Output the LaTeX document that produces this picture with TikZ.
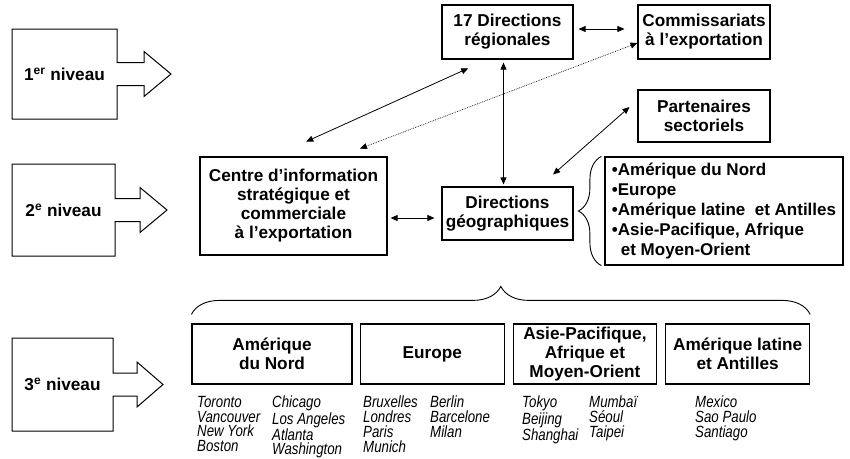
\documentclass[tikz,border=0pt]{standalone}
\usepackage{fontspec}
\setmainfont{Liberation Sans}
\newfontfamily\villefont[FakeStretch=0.82]{Liberation Sans}
\usetikzlibrary{positioning,calc,arrows.meta,decorations.pathreplacing}

\tikzset{
  boite/.style={draw,line width=1.2pt,align=center,inner sep=0pt,font=\bfseries\fontsize{17.2}{19}\selectfont},
  fleche/.style={>={Triangle[length=7pt,width=6pt]},<->,line width=0.8pt},
  ville/.style={anchor=north west,inner sep=0pt,align=left,font=\villefont\itshape\fontsize{16.2}{14.8}\selectfont},
  accolade/.style={decorate,decoration={brace,amplitude=#1},line width=0.9pt},
  niveau/.style={draw,line width=1pt}
}

\begin{document}
\begin{tikzpicture}[x=1pt,y=-1pt]
  \useasboundingbox (0,0) rectangle (850,458);

  % Niveaux
  \foreach \n/\lab/\yt/\yb/\xr/\xs/\xt in {1/1\textsuperscript{er} niveau/29/119/117/144/171,
      2/2\textsuperscript{e} niveau/164/256/115/140/167,
      3/3\textsuperscript{e} niveau/338/431/113/137/163}{
    \pgfmathsetmacro{\yc}{(\yt+\yb)/2}
    \draw[niveau] (12,\yt) -- (\xr,\yt) -- (\xr,\yc-11.5) -- (\xs,\yc-11.5) -- (\xs,\yc-22.5)
      -- (\xt,\yc) -- (\xs,\yc+22.5) -- (\xs,\yc+11.5) -- (\xr,\yc+11.5) -- (\xr,\yb) -- (12,\yb) -- cycle;
    \node[font=\bfseries\fontsize{17.2}{19}\selectfont] (niv\n) at ({(12+\xr)/2},\yc) {\lab};
  }

  % 1er et 2e niveau
  \node[boite,minimum width=131pt,minimum height=54pt] (dirreg) at (507.5,32) {17 Directions\\régionales};
  \node[boite,minimum width=132pt,minimum height=54pt] (commis) at (704,32) {Commissariats\\à l’exportation};
  \node[boite,minimum width=132pt,minimum height=52pt] (partenaires) at (704,116) {Partenaires\\sectoriels};
  \node[boite,minimum width=131pt,minimum height=53pt] (dirgeo) at (507.5,213.5) {Directions\\géographiques};
  \node[boite,minimum width=187pt,minimum height=98pt] (centre) at (293.5,206) {Centre d’information\\stratégique et\\commerciale\\à l’exportation};
  \node[boite,align=left,minimum width=238pt,minimum height=108pt,font=\bfseries\fontsize{17}{20}\selectfont] (zones) at (724,211)
    {•Amérique du Nord\\•Europe\\•Amérique latine\ \ et Antilles\\•Asie-Pacifique, Afrique\\\hspace*{9pt}et Moyen-Orient};

  % liaisons
  \draw[fleche,shorten <=5pt,shorten >=13pt] ([yshift=3pt]dirreg.east) -- ([yshift=3pt]commis.west);
  \draw[fleche,shorten <=3pt,shorten >=2pt] ([xshift=-4pt]dirreg.south) -- ([xshift=-4pt]dirgeo.north);
  \draw[fleche,shorten <=21pt,shorten >=36pt] ($(dirreg.south west)+(46,0)$) -- ($(centre.north west)+(74,0)$);
  \draw[fleche,densely dotted,line width=0.6pt,shorten >=22pt] ($(commis.west)+(0,11)$) -- ($(centre.north west)+(140,0)$);
  \draw[fleche,shorten <=10.6pt,shorten >=18pt] ($(partenaires.west)+(0,-16)$) -- ($(dirgeo.north east)+(-34,0)$);
  \draw[fleche,shorten <=3pt,shorten >=7pt] ($(centre.east)+(0,12)$) -- ($(dirgeo.west)+(0,4.5)$);
  \draw[accolade=23pt] ($(zones.south west)+(-3,0)$) -- ($(zones.north west)+(-3,0)$);

  % 3e niveau
  \node[boite,minimum width=160pt,minimum height=60pt] (amnord) at (272,354) {Amérique\\du Nord};
  \node[boite,minimum width=144pt,minimum height=60pt,right=7pt of amnord] (europe) {Europe};
  \node[boite,minimum width=143pt,minimum height=60pt,right=8pt of europe] (asie) {Asie-Pacifique,\\Afrique et\\Moyen-Orient};
  \node[boite,minimum width=144pt,minimum height=60pt,right=8pt of asie] (amlat) {Amérique latine\\et Antilles};
  \draw[accolade=28pt] ($(amnord.north west)+(0,-9)$) -- ($(amlat.north east)+(0,-9)$);

  % villes
  \node[ville] (v1) at (197,396) {Toronto\\Vancouver\\New York\\Boston};
  \node[ville] (v2) at (272,396) {Chicago\\Los Angeles\\Atlanta\\Washington};
  \node[ville] (v3) at (363,396) {Bruxelles\\Londres\\Paris\\Munich};
  \node[ville] (v4) at (430,396) {Berlin\\Barcelone\\Milan};
  \node[ville] (v5) at (522,396) {Tokyo\\Beijing\\Shanghai};
  \node[ville] (v6) at (589,396) {Mumbaï\\Séoul\\Taipei};
  \node[ville] (v7) at (695,396) {Mexico\\Sao Paulo\\Santiago};
\end{tikzpicture}
\end{document}
